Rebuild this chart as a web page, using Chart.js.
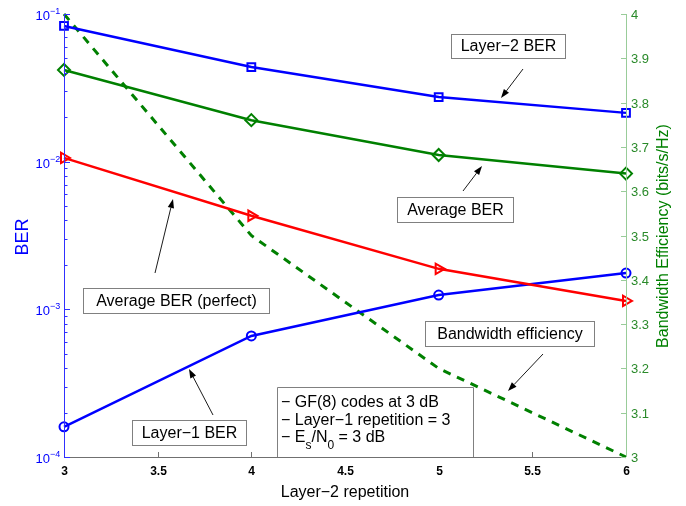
<!DOCTYPE html>
<html><head><meta charset="utf-8">
<script src="https://cdn.jsdelivr.net/npm/chart.js@4"></script>
<style>html,body{margin:0;padding:0;background:#fff}canvas{display:block}</style>
</head><body>
<canvas id="c" width="686" height="506"></canvas>
<script>
const repetitions = [3, 4, 5, 6];
const layer2BER = [0.083, 0.0437, 0.0274, 0.0214];
const averageBER = [0.0418, 0.0191, 0.0111, 0.0083];
const averageBERPerfect = [0.0106, 0.0043, 0.00188, 0.00114];
const layer1BER = [0.00016, 0.00066, 0.00125, 0.00176];
const bandwidthEff = [4.0, 3.5, 3.2, 3.0];
const xTicks = [3, 3.5, 4, 4.5, 5, 5.5, 6];
const berDecades = [-4, -3, -2, -1];
const effTicks = [3, 3.1, 3.2, 3.3, 3.4, 3.5, 3.6, 3.7, 3.8, 3.9, 4];

const FONT = '"Liberation Sans", Arial, Helvetica, sans-serif';
const BLUE = '#0000ff', GREEN = '#008000', RED = '#ff0000';

function pts(arr) { return repetitions.map((x, i) => ({ x: x, y: arr[i] })); }

function arrow(ctx, x1, y1, x2, y2) {
  ctx.save();
  ctx.strokeStyle = '#000'; ctx.fillStyle = '#000'; ctx.lineWidth = 0.9;
  const a = Math.atan2(y2 - y1, x2 - x1), L = 9, W = 3.2;
  const bx = x2 - L * Math.cos(a), by = y2 - L * Math.sin(a);
  ctx.beginPath(); ctx.moveTo(x1, y1); ctx.lineTo(bx, by); ctx.stroke();
  ctx.beginPath(); ctx.moveTo(x2, y2);
  ctx.lineTo(bx + W * Math.sin(a), by - W * Math.cos(a));
  ctx.lineTo(bx - W * Math.sin(a), by + W * Math.cos(a));
  ctx.closePath(); ctx.fill();
  ctx.restore();
}
function box(ctx, x, y, w, h, text, size) {
  ctx.save();
  ctx.fillStyle = '#fff'; ctx.fillRect(x, y, w, h);
  ctx.strokeStyle = '#808080'; ctx.lineWidth = 1;
  ctx.strokeRect(x + 0.5, y + 0.5, w, h);
  ctx.fillStyle = '#000'; ctx.font = size + 'px ' + FONT;
  ctx.textAlign = 'center'; ctx.textBaseline = 'middle';
  ctx.fillText(text, x + w / 2 + 0.5, y + h / 2 + 1);
  ctx.restore();
}

const axesPlugin = {
  id: 'axesPlugin',
  afterDraw(chart) {
    const ctx = chart.ctx, a = chart.chartArea;
    const sx = chart.scales.x, sb = chart.scales.yBer, se = chart.scales.yEff;
    ctx.save();
    // bottom axis
    ctx.strokeStyle = '#707070'; ctx.lineWidth = 1;
    ctx.beginPath(); ctx.moveTo(a.left, a.bottom + 0.5); ctx.lineTo(a.right, a.bottom + 0.5); ctx.stroke();
    ctx.fillStyle = '#000'; ctx.font = 'bold 12px ' + FONT;
    ctx.textAlign = 'center'; ctx.textBaseline = 'middle';
    xTicks.forEach(v => {
      const px = Math.round(sx.getPixelForValue(v)) + 0.5;
      ctx.beginPath(); ctx.moveTo(px, a.bottom); ctx.lineTo(px, a.bottom - 5); ctx.stroke();
      ctx.fillText(String(v), px, a.bottom + 15);
    });
    // left axis
    ctx.strokeStyle = '#3030ff';
    ctx.beginPath(); ctx.moveTo(a.left + 0.5, a.top); ctx.lineTo(a.left + 0.5, a.bottom); ctx.stroke();
    berDecades.forEach(e => {
      const py = Math.round(sb.getPixelForValue(Math.pow(10, e))) + 0.5;
      ctx.beginPath(); ctx.moveTo(a.left, py); ctx.lineTo(a.left + 6, py); ctx.stroke();
      if (e < -1) {
        for (let m = 2; m <= 9; m++) {
          const my = Math.round(sb.getPixelForValue(m * Math.pow(10, e))) + 0.5;
          ctx.beginPath(); ctx.moveTo(a.left, my); ctx.lineTo(a.left + 3.5, my); ctx.stroke();
        }
      }
      ctx.fillStyle = BLUE;
      ctx.font = '13px ' + FONT; ctx.textAlign = 'right'; ctx.textBaseline = 'middle';
      ctx.fillText('10', a.left - 14, py + 2);
      ctx.font = '9px ' + FONT; ctx.textAlign = 'left';
      ctx.fillText('\u2212' + Math.abs(e), a.left - 14, py - 3);
    });
    // right axis
    ctx.strokeStyle = '#99cc99';
    ctx.beginPath(); ctx.moveTo(a.right + 0.5, a.top); ctx.lineTo(a.right + 0.5, a.bottom); ctx.stroke();
    ctx.fillStyle = '#2a8a2a'; ctx.font = '13px ' + FONT;
    ctx.textAlign = 'left'; ctx.textBaseline = 'middle';
    effTicks.forEach(v => {
      const py = Math.round(se.getPixelForValue(v)) + 0.5;
      ctx.beginPath(); ctx.moveTo(a.right, py); ctx.lineTo(a.right - 5, py); ctx.stroke();
      ctx.fillText(v === 3 || v === 4 ? String(v) : v.toFixed(1), a.right + 5, py + 1);
    });
    // titles
    ctx.fillStyle = BLUE; ctx.font = '18px ' + FONT; ctx.textAlign = 'center';
    ctx.save(); ctx.translate(23, 237); ctx.rotate(-Math.PI / 2); ctx.fillText('BER', 0, 0); ctx.restore();
    ctx.fillStyle = GREEN; ctx.font = '16px ' + FONT;
    ctx.save(); ctx.translate(664, 236); ctx.rotate(-Math.PI / 2);
    ctx.fillText('Bandwidth Efficiency (bits/s/Hz)', 0, 0); ctx.restore();
    ctx.fillStyle = '#000'; ctx.font = '16px ' + FONT;
    ctx.fillText('Layer\u22122 repetition', 345, 493);

    // annotations
    box(ctx, 451, 34, 114, 24, 'Layer\u22122 BER', 16);
    arrow(ctx, 523, 69, 501, 98);
    box(ctx, 397, 197, 116, 25, 'Average BER', 16);
    arrow(ctx, 463, 191, 482, 166);
    box(ctx, 83, 288, 186, 25, 'Average BER (perfect)', 16);
    arrow(ctx, 155, 273, 173, 199);
    box(ctx, 425, 321, 169, 25, 'Bandwidth efficiency', 16);
    arrow(ctx, 543, 354, 508, 391);
    box(ctx, 132, 420, 114, 25, 'Layer\u22121 BER', 16);
    arrow(ctx, 213, 415, 189, 369);

    // info box
    ctx.fillStyle = '#fff'; ctx.fillRect(277, 387, 196, a.bottom - 387);
    ctx.strokeStyle = '#808080'; ctx.lineWidth = 1;
    ctx.beginPath();
    ctx.moveTo(277.5, a.bottom); ctx.lineTo(277.5, 387.5); ctx.lineTo(473.5, 387.5); ctx.lineTo(473.5, a.bottom);
    ctx.stroke();
    ctx.fillStyle = '#000'; ctx.font = '16px ' + FONT; ctx.textAlign = 'left'; ctx.textBaseline = 'middle';
    ctx.fillText('\u2212 GF(8) codes at 3 dB', 281, 403);
    ctx.fillText('\u2212 Layer\u22121 repetition = 3', 281, 421);
    let x = 281;
    ctx.fillText('\u2212 E', x, 438); x += ctx.measureText('\u2212 E').width;
    ctx.font = '12px ' + FONT; ctx.fillText('s', x, 446); x += ctx.measureText('s').width;
    ctx.font = '16px ' + FONT; ctx.fillText('/N', x, 438); x += ctx.measureText('/N').width;
    ctx.font = '12px ' + FONT; ctx.fillText('0', x, 446); x += ctx.measureText('0').width;
    ctx.font = '16px ' + FONT; ctx.fillText(' = 3 dB', x, 438);
    ctx.restore();
  }
};

new Chart(document.getElementById('c'), {
  type: 'line',
  data: {
    datasets: [
      { label: 'Layer-2 BER', data: pts(layer2BER), yAxisID: 'yBer', borderColor: BLUE, borderWidth: 2.5,
        pointStyle: 'rect', pointRadius: 5.5, pointBorderWidth: 2, pointBackgroundColor: 'rgba(0,0,0,0)', pointBorderColor: BLUE },
      { label: 'Average BER', data: pts(averageBER), yAxisID: 'yBer', borderColor: GREEN, borderWidth: 2.5,
        pointStyle: 'rectRot', pointRadius: 6, pointBorderWidth: 2, pointBackgroundColor: 'rgba(0,0,0,0)', pointBorderColor: GREEN },
      { label: 'Average BER (perfect)', data: pts(averageBERPerfect), yAxisID: 'yBer', borderColor: RED, borderWidth: 2.5,
        pointStyle: 'triangle', pointRotation: 90, pointRadius: 6, pointBorderWidth: 2, pointBackgroundColor: 'rgba(0,0,0,0)', pointBorderColor: RED },
      { label: 'Layer-1 BER', data: pts(layer1BER), yAxisID: 'yBer', borderColor: BLUE, borderWidth: 2.5,
        pointStyle: 'circle', pointRadius: 4.5, pointBorderWidth: 2, pointBackgroundColor: 'rgba(0,0,0,0)', pointBorderColor: BLUE },
      { label: 'Bandwidth efficiency', data: pts(bandwidthEff), yAxisID: 'yEff', borderColor: GREEN, borderWidth: 3,
        borderDash: [8, 7], pointRadius: 0 }
    ]
  },
  options: {
    responsive: false, animation: false, devicePixelRatio: 1,
    layout: { padding: { left: 64, right: 60, top: 14, bottom: 49 } },
    elements: { line: { tension: 0 } },
    datasets: { line: { clip: false } },
    plugins: { legend: { display: false }, tooltip: { enabled: false } },
    scales: {
      x: { type: 'linear', min: 3, max: 6, display: false },
      yBer: { type: 'logarithmic', position: 'left', min: 1e-4, max: 1e-1, display: false },
      yEff: { type: 'linear', position: 'right', min: 3, max: 4, display: false }
    }
  },
  plugins: [axesPlugin]
});
</script>
</body></html>
